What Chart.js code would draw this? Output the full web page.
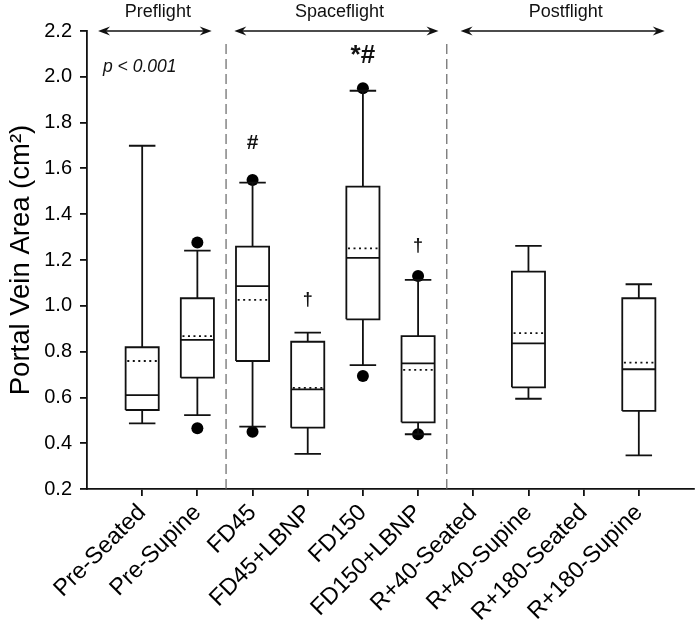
<!DOCTYPE html>
<html>
<head>
<meta charset="utf-8">
<script src="https://cdn.jsdelivr.net/npm/chart.js@4.4.0/dist/chart.umd.min.js"></script>
<style>
  html, body { margin: 0; padding: 0; background: #fff; }
  #wrap { width: 700px; height: 631px; position: relative; }
</style>
</head>
<body>
<div id="wrap"><canvas id="myChart"></canvas></div>
<script>
const categories = [
  "Pre-Seated", "Pre-Supine", "FD45", "FD45+LBNP", "FD150",
  "FD150+LBNP", "R+40-Seated", "R+40-Supine", "R+180-Seated", "R+180-Supine",
];

// box plot statistics (null = no data)
const whiskerLow = [0.487, 0.523, 0.472, 0.353, 0.741, 0.439, null, 0.594, null, 0.347];
const q1 = [0.545, 0.686, 0.759, 0.468, 0.941, 0.491, null, 0.644, null, 0.541];
const median = [0.610, 0.851, 1.086, 0.635, 1.209, 0.749, null, 0.836, null, 0.723];
const mean = [0.759, 0.868, 1.026, 0.642, 1.251, 0.720, null, 0.881, null, 0.752];
const q3 = [0.819, 1.033, 1.258, 0.843, 1.520, 0.868, null, 1.149, null, 1.033];
const whiskerHigh = [1.699, 1.241, 1.538, 0.883, 1.939, 1.113, null, 1.262, null, 1.094];
const outliers = [[], [0.465, 1.276], [0.450, 1.549], [], [0.693, 1.950], [0.439, 1.130], [], [], [], []];

const yTicks = [0.2, 0.4, 0.6, 0.8, 1.0, 1.2, 1.4, 1.6, 1.8, 2.0, 2.2];

// significance marks above the boxes
const markText = ["", "", "#", "\u2020", "*#", "\u2020", "", "", "", ""];
const markY = [null, null, 1.711, 1.025, 2.093, 1.263, null, null, null, null];

// study phases shown as arrows along the top
const periods = ["Preflight", "Spaceflight", "Postflight"];
const periodStart = [0.2, 2.67, 6.77];
const periodEnd = [2.26, 6.37, 10.47];
const dividers = [2.52, 6.52];
const dividerTop = 2.146;

const FONT = "'Liberation Sans', Arial, sans-serif";
const BOX_HALF = 0.3;
const CAP_HALF = 0.24;

// Helper functions

const gap = (x) => ({ x: x, y: null });

/**
 * Build a polyline (with null gaps) for every category that has data
 * @param {function} fn returns a list of points for category index i
 */
const collect = (fn) => {
  const pts = [];
  categories.forEach((c, i) => {
    if (q1[i] === null) return;
    fn(i + 1, i).forEach((p) => pts.push(p));
    pts.push(gap(i + 1));
  });
  return pts;
};

const boxPts = collect((x, i) => [
  { x: x - BOX_HALF, y: q1[i] },
  { x: x + BOX_HALF, y: q1[i] },
  { x: x + BOX_HALF, y: q3[i] },
  { x: x - BOX_HALF, y: q3[i] },
  { x: x - BOX_HALF, y: q1[i] },
]);

const medianPts = collect((x, i) => [
  { x: x - BOX_HALF, y: median[i] },
  { x: x + BOX_HALF, y: median[i] },
]);

const meanPts = collect((x, i) => [
  { x: x - BOX_HALF + 0.03, y: mean[i] },
  { x: x + BOX_HALF - 0.03, y: mean[i] },
]);

const whiskerPts = collect((x, i) => [
  { x: x, y: q3[i] },
  { x: x, y: whiskerHigh[i] },
  gap(x),
  { x: x - CAP_HALF, y: whiskerHigh[i] },
  { x: x + CAP_HALF, y: whiskerHigh[i] },
  gap(x),
  { x: x, y: q1[i] },
  { x: x, y: whiskerLow[i] },
  gap(x),
  { x: x - CAP_HALF, y: whiskerLow[i] },
  { x: x + CAP_HALF, y: whiskerLow[i] },
]);

const outlierPts = [];
outliers.forEach((list, i) => list.forEach((v) => outlierPts.push({ x: i + 1, y: v })));

const dividerPts = [];
dividers.forEach((d) => {
  dividerPts.push({ x: d, y: 0.2 }, { x: d, y: dividerTop }, gap(d));
});

const lineSet = (data, extra) =>
  Object.assign(
    {
      data: data,
      showLine: true,
      spanGaps: false,
      borderColor: "#111",
      borderWidth: 1.8,
      pointRadius: 0,
      tension: 0,
      fill: false,
    },
    extra || {}
  );

const drawArrowHead = (ctx, x, y, dir) => {
  ctx.beginPath();
  ctx.moveTo(x, y);
  ctx.lineTo(x - dir * 12, y - 4.5);
  ctx.lineTo(x - dir * 8, y);
  ctx.lineTo(x - dir * 12, y + 4.5);
  ctx.closePath();
  ctx.fill();
};

const annotations = {
  id: "annotations",
  afterDraw(chart) {
    const { ctx } = chart;
    const xs = chart.scales.x;
    const ys = chart.scales.y;
    const top = ys.getPixelForValue(2.2);
    ctx.save();
    ctx.fillStyle = "#111";
    ctx.strokeStyle = "#111";
    ctx.lineWidth = 1.4;

    periods.forEach((name, i) => {
      const x0 = xs.getPixelForValue(periodStart[i]);
      const x1 = xs.getPixelForValue(periodEnd[i]);
      ctx.beginPath();
      ctx.moveTo(x0 + 6, top);
      ctx.lineTo(x1 - 6, top);
      ctx.stroke();
      drawArrowHead(ctx, x0, top, -1);
      drawArrowHead(ctx, x1, top, 1);
      ctx.font = "18px " + FONT;
      ctx.textAlign = "center";
      ctx.textBaseline = "alphabetic";
      ctx.fillText(name, (x0 + x1) / 2 + 3, top - 14);
    });

    ctx.font = "italic 17.5px " + FONT;
    ctx.textAlign = "left";
    ctx.fillText("p < 0.001", xs.getPixelForValue(0.29), ys.getPixelForValue(2.019));

    markText.forEach((t, i) => {
      if (!t) return;
      const px = xs.getPixelForValue(i + 1);
      const py = ys.getPixelForValue(markY[i]);
      ctx.textAlign = "center";
      ctx.textBaseline = "middle";
      if (t === "\u2020") {
        ctx.font = "bold 18px " + FONT;
      } else if (t === "*#") {
        ctx.font = "bold 26px " + FONT;
      } else {
        ctx.font = "bold 21px " + FONT;
      }
      ctx.fillText(t, px, py);
    });
    ctx.restore();
  },
};

new Chart(document.getElementById("myChart").getContext("2d"), {
  type: "scatter",
  data: {
    datasets: [
      lineSet(dividerPts, { borderColor: "#666", borderWidth: 1.2, borderDash: [10, 5] }),
      lineSet(whiskerPts),
      lineSet(boxPts, { backgroundColor: "#fff" }),
      lineSet(medianPts),
      lineSet(meanPts, { borderDash: [2, 3.5] }),
      {
        data: outlierPts,
        showLine: false,
        pointRadius: 6,
        pointBackgroundColor: "#000",
        pointBorderColor: "#000",
        pointBorderWidth: 0,
      },
    ],
  },
  options: {
    responsive: true,
    maintainAspectRatio: false,
    animation: false,
    layout: { padding: { top: 31, right: 2, left: 0, bottom: 0 } },
    plugins: {
      legend: { display: false },
      tooltip: { enabled: false },
    },
    scales: {
      x: {
        type: "linear",
        min: 0,
        max: 11,
        afterBuildTicks: (scale) => {
          scale.ticks = categories.map((c, i) => ({ value: i + 1 }));
        },
        afterFit: (scale) => {
          scale.height = 142;
        },
        ticks: {
          autoSkip: false,
          minRotation: 45,
          maxRotation: 45,
          padding: 3,
          color: "#000",
          font: { family: FONT, size: 23.5 },
          callback: (v) => categories[v - 1],
        },
        grid: {
          drawOnChartArea: false,
          drawTicks: true,
          tickLength: 7,
          color: "#111",
          lineWidth: 1.8,
        },
        border: { display: true, color: "#111", width: 1.8 },
      },
      y: {
        type: "linear",
        min: 0.2,
        max: 2.2,
        afterBuildTicks: (scale) => {
          scale.ticks = yTicks.map((v) => ({ value: v }));
        },
        afterFit: (scale) => {
          scale.width = 87;
        },
        ticks: {
          padding: 8,
          color: "#000",
          font: { family: FONT, size: 20 },
          callback: (v) => v.toFixed(1),
        },
        grid: {
          drawOnChartArea: false,
          drawTicks: true,
          tickLength: 7,
          color: "#111",
          lineWidth: 1.8,
        },
        border: { display: true, color: "#111", width: 1.8 },
        title: {
          display: true,
          text: "Portal Vein Area (cm\u00B2)",
          color: "#000",
          font: { family: FONT, size: 27.5 },
          padding: { top: 5, bottom: 0 },
        },
      },
    },
  },
  plugins: [annotations],
});
</script>
</body>
</html>
